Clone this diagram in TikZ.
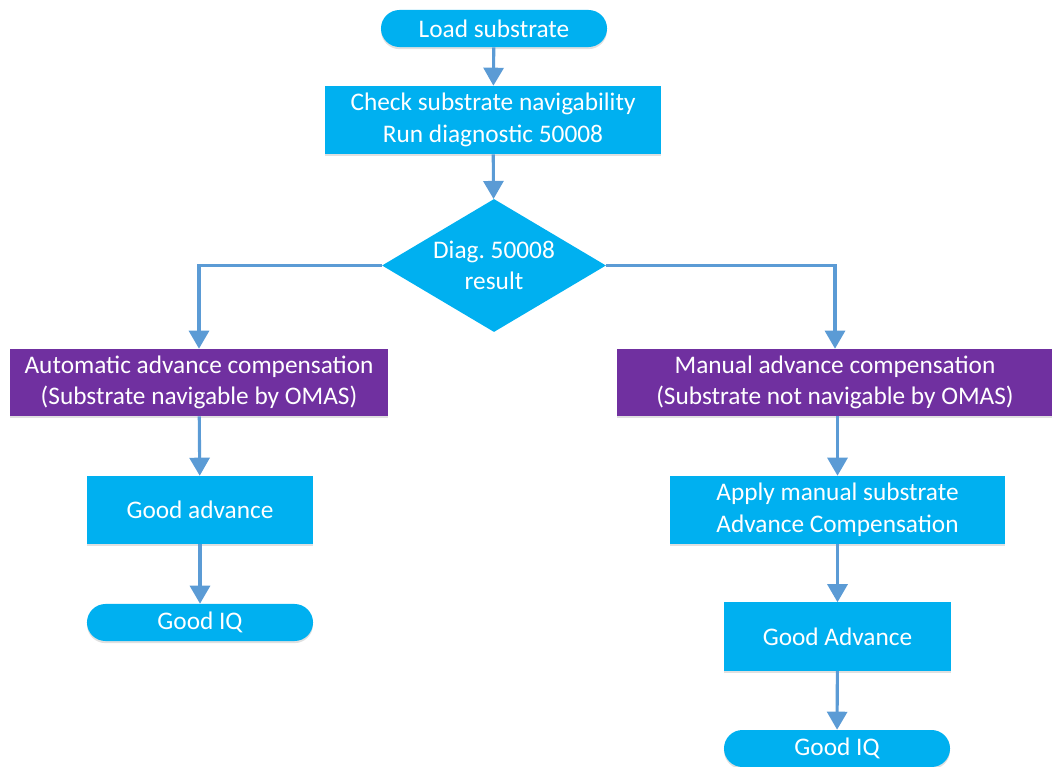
\documentclass[tikz,border=0pt]{standalone}
\usepackage{fontspec}
\setmainfont{Carlito}
\usetikzlibrary{shapes.geometric, arrows.meta, shadows}
\definecolor{boxcyan}{HTML}{00B0F0}
\definecolor{boxpurple}{HTML}{7030A0}
\definecolor{linkblue}{HTML}{5B9BD5}

\begin{document}
\begin{tikzpicture}[x=0.025cm,y=-0.025cm,
  every node/.style={text=white, align=center, inner sep=0pt, font=\fontsize{18}{22.5}\selectfont},
  softshadow/.style={drop shadow={shadow xshift=0pt, shadow yshift=-1.5pt, opacity=0.12, fill=black}},
  terminal/.style={fill=boxcyan, rounded corners=0.4625cm, minimum width=5.65cm, minimum height=0.925cm, softshadow},
  process/.style={fill=boxcyan, minimum height=1.7cm, softshadow},
  choice/.style={diamond, fill=boxcyan, aspect=1.68, minimum width=5.6cm, minimum height=3.325cm},
  mode/.style={fill=boxpurple, minimum height=1.675cm, softshadow},
  link/.style={draw=linkblue, line width=2.2pt, -{Triangle[width=0.5cm,length=0.45cm]}}]
\useasboundingbox (0,0) rectangle (1052,767);
% Main column
\node[terminal] (load) at (494,28.5) {Load substrate};
\node[process, minimum width=8.4cm] (check) at (493,120) {Check substrate navigability\\Run diagnostic 50008};
\node[choice] (diag) at (494,265.5) {Diag.\ 50008\\result};
% Left branch
\node[mode, minimum width=9.45cm] (auto) at (199,382.5) {Automatic advance compensation\\(Substrate navigable by OMAS)};
\node[process, minimum width=5.65cm] (goodadv) at (200,510) {Good advance};
\node[terminal] (goodiq) at (200,622.5) {Good IQ};
% Right branch
\node[mode, minimum width=10.9cm] (manual) at (835,382.5) {Manual advance compensation\\(Substrate not navigable by OMAS)};
\node[process, minimum width=8.375cm] (apply) at (837.5,510) {Apply manual substrate\\Advance Compensation};
\node[process, minimum width=5.675cm] (goodadvm) at (837.5,636.5) {Good Advance};
\node[terminal] (goodiqm) at (837,748.5) {Good IQ};
% Connectors
\draw[link] (load) -- (check);
\draw[link] (check) -- (diag);
\draw[link] (diag.west) -| (auto.north);
\draw[link] (diag.east) -| (manual.north);
\draw[link] (auto) -- (goodadv);
\draw[link] (goodadv) -- (goodiq);
\draw[link] (manual.south -| apply.north) -- (apply);
\draw[link] (apply) -- (goodadvm);
\draw[link] (goodadvm) -- (goodiqm);
\end{tikzpicture}
\end{document}
